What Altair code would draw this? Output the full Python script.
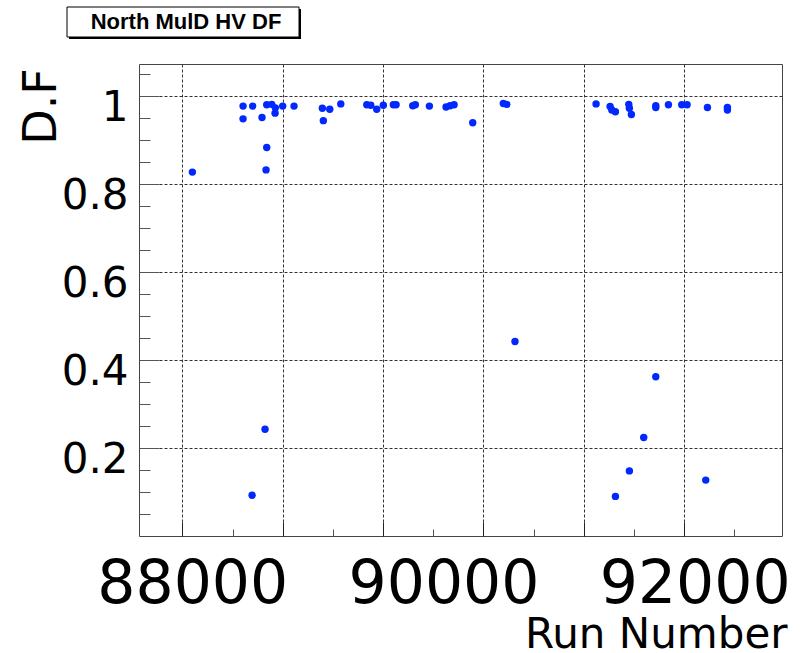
import altair as alt
import pandas as pd

# ---- data ----
runs = [88100, 88605, 88605, 88701, 88794, 88841, 88834, 88841, 88891, 88924,
        88927, 89000, 89113, 89395, 89405, 89469, 89579, 89838, 89878, 89937,
        90003, 90103, 90130, 90296, 90322, 90462, 90628, 90668, 90708, 90894,
        91199, 91233, 91315, 92123, 92263, 92280, 92316, 92449, 92455, 92475,
        92718, 92718, 92844, 92977, 93030, 93233, 93432, 93432, 88824, 88695,
        92718, 92598, 92455, 92316, 93216]
dfs = [0.827, 0.977, 0.948, 0.977, 0.951, 0.883, 0.832, 0.980, 0.981, 0.961,
       0.973, 0.977, 0.977, 0.972, 0.944, 0.970, 0.982, 0.980, 0.979, 0.970,
       0.979, 0.980, 0.980, 0.978, 0.980, 0.977, 0.975, 0.978, 0.980, 0.939,
       0.983, 0.981, 0.442, 0.982, 0.976, 0.968, 0.964, 0.981, 0.972, 0.958,
       0.978, 0.974, 0.980, 0.980, 0.980, 0.974, 0.974, 0.968, 0.2425, 0.0925,
       0.362, 0.224, 0.148, 0.090, 0.127]

x_major = [88000, 89000, 90000, 91000, 92000, 93000]
x_minor = [88500, 89500, 90500, 91500, 92500, 93500]
x_labels = [88000, 90000, 92000]
y_major = [0.2, 0.4, 0.6, 0.8, 1.0]
y_minor = [0.05, 0.1, 0.15, 0.25, 0.3, 0.35, 0.45, 0.5, 0.55,
           0.65, 0.7, 0.75, 0.85, 0.9, 0.95, 1.05]
title_text = "North MulD HV DF"

x_domain = [87568, 93976]
label_domain = [87576, 92695]
y_domain = [0, 1.0727]

W, H = 643, 472
BLUE = "#0028ff"
FONT = "DejaVu Sans"

pts = pd.DataFrame({"run": runs, "df": dfs})
lab = pd.DataFrame({"label_run": x_labels})
ttl = pd.DataFrame({"t": [title_text]})

xs = alt.Scale(domain=x_domain, nice=False, zero=False)
ys = alt.Scale(domain=y_domain, nice=False, zero=False)

# grid + y labels + points
points = alt.Chart(pts).mark_circle(size=55, color=BLUE, opacity=1).encode(
    x=alt.X("run:Q", scale=xs,
            axis=alt.Axis(orient="bottom", values=x_major, grid=True, labels=False,
                          ticks=False, domain=False, title=None,
                          gridColor="#333333", gridDash=[3, 2], gridWidth=1, gridOpacity=1)),
    y=alt.Y("df:Q", scale=ys,
            axis=alt.Axis(orient="left", values=y_major, grid=True, ticks=False, domain=False,
                          gridColor="#333333", gridDash=[3, 2], gridWidth=1, gridOpacity=1,
                          labelExpr="datum.value == 1 ? '1' : format(datum.value, '.1f')",
                          labelFont=FONT, labelFontSize=42, labelColor="black",
                          labelPadding=11, labelOffset=12, labelOverlap=False,
                          title="D.F", titleFont=FONT, titleFontSize=46,
                          titleFontWeight="normal", titleColor="black", titleAngle=270,
                          titleX=-84, titleY=42, titleAlign="center",
                          titleBaseline="alphabetic")),
)

# major ticks, drawn inward
major = alt.Chart(pts).mark_circle(opacity=0).encode(
    x=alt.X("run:Q", scale=xs,
            axis=alt.Axis(orient="top", offset=-H, values=x_major, tickSize=14,
                          tickColor="#222222", labels=False, domain=False, grid=False,
                          title=None)),
    y=alt.Y("df:Q", scale=ys,
            axis=alt.Axis(orient="right", offset=-W, values=y_major, tickSize=20,
                          tickColor="#555555", labels=False, domain=False, grid=False,
                          title=None)),
)

# minor ticks, drawn inward
minor = alt.Chart(pts).mark_circle(opacity=0).encode(
    x=alt.X("run:Q", scale=xs,
            axis=alt.Axis(orient="top", offset=-H, values=x_minor, tickSize=7,
                          tickColor="#555555", labels=False, domain=False, grid=False,
                          title=None)),
    y=alt.Y("df:Q", scale=ys,
            axis=alt.Axis(orient="right", offset=-W, values=y_minor, tickSize=11,
                          tickColor="#555555", labels=False, domain=False, grid=False,
                          title=None)),
)

# x tick labels, placed as in the reference rendering
labels = alt.Chart(lab).mark_point(opacity=0).encode(
    x=alt.X("label_run:Q",
            scale=alt.Scale(domain=label_domain, nice=False, zero=False),
            axis=alt.Axis(orient="bottom", values=x_labels, format="d", ticks=False,
                          domain=False, grid=False, labelFont=FONT, labelFontSize=60,
                          labelColor="black", labelPadding=19, labelFlush=False,
                          labelOverlap=False, labelLimit=0,
                          title="Run Number", titleFont=FONT, titleFontSize=42,
                          titleFontWeight="normal", titleColor="black",
                          titleX=648, titleY=111, titleAlign="right",
                          titleBaseline="alphabetic")),
)

shadow = alt.Chart(ttl).mark_rect(fill="black").encode(
    x=alt.value(-70), x2=alt.value(162), y=alt.value(-55), y2=alt.value(-25))
box = alt.Chart(ttl).mark_rect(fill="white", stroke="black", strokeWidth=1).encode(
    x=alt.value(-72), x2=alt.value(160), y=alt.value(-57), y2=alt.value(-27))
ttext = alt.Chart(ttl).mark_text(font="Liberation Sans", fontSize=22, fontWeight="bold",
                                 align="center", baseline="alphabetic", color="black").encode(
    x=alt.value(47), y=alt.value(-35), text="t:N")

chart = alt.layer(points, major, minor, labels, shadow, box, ttext).resolve_scale(
    x="independent", y="independent"
).resolve_axis(
    x="independent", y="independent"
).properties(
    width=W, height=H,
    autosize=alt.AutoSizeParams(type="none"),
    padding={"left": 139, "top": 64, "right": 28, "bottom": 117},
    background="white",
).configure_view(stroke="#444444", strokeWidth=1)

chart.save("out.html", embed_options={"renderer": "svg", "actions": False})
